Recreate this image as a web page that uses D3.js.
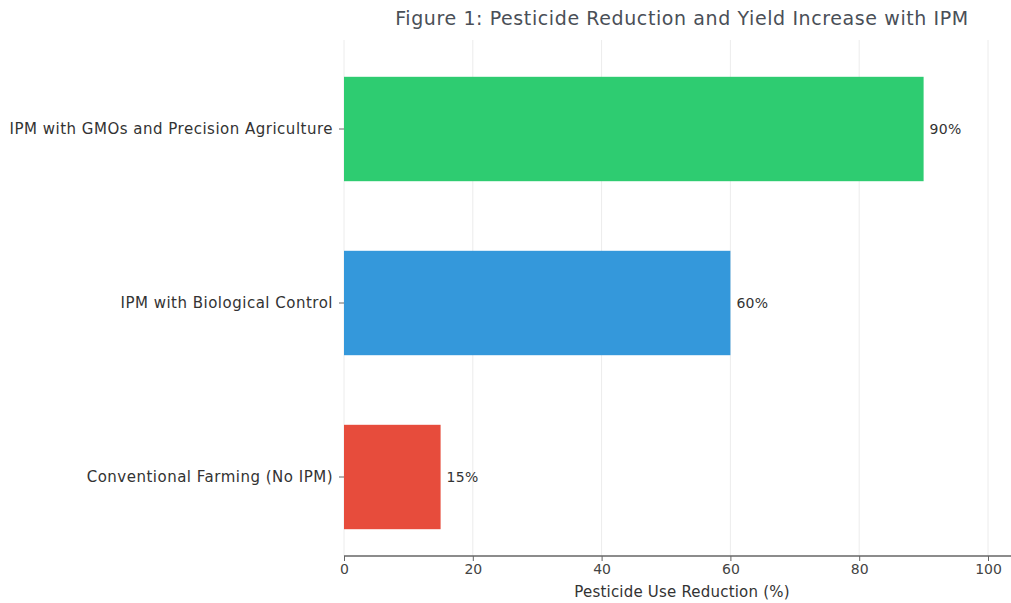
<!DOCTYPE html>
<html><head><meta charset="utf-8">
<script src="https://cdn.jsdelivr.net/npm/d3@7"></script>
<style>
html,body{margin:0;padding:0;background:#fff;}
svg{display:block;font-family:"DejaVu Sans",sans-serif;}
</style></head>
<body>
<svg id="chart" width="1011" height="603"></svg>
<script>
const categories = ["IPM with GMOs and Precision Agriculture","IPM with Biological Control","Conventional Farming (No IPM)"];
const values = [90, 60, 15];
const colors = ["#2ecc71","#3498db","#e74c3c"];
const xTicks = [0,20,40,60,80,100];
const title = "Figure 1: Pesticide Reduction and Yield Increase with IPM";
const xLabel = "Pesticide Use Reduction (%)";

const FONT = "DejaVu Sans, sans-serif";
const svg = d3.select("#chart");
const left = 344, axisY = 556;
const x = d3.scaleLinear().domain([0,100]).range([left, 988]);
const y = d3.scaleBand().domain(categories).range([42,564]).paddingInner(0.4).paddingOuter(0.2);

// gridlines
svg.append("g").selectAll("line").data(xTicks).join("line")
  .attr("x1", d=>x(d)).attr("x2", d=>x(d)).attr("y1", 40).attr("y2", axisY)
  .attr("stroke", "#ececec").attr("stroke-width", 1);

// bars
svg.append("g").selectAll("rect").data(categories).join("rect")
  .attr("x", x(0)).attr("y", d=>y(d))
  .attr("width", (d,i)=>x(values[i])-x(0)).attr("height", y.bandwidth())
  .attr("fill", (d,i)=>colors[i]);

// value labels
svg.append("g").selectAll("text").data(categories).join("text")
  .attr("x", (d,i)=>x(values[i])+6).attr("y", d=>y(d)+y.bandwidth()/2)
  .attr("dy","0.35em").attr("font-size", 14).attr("fill", "#333").attr("letter-spacing", 0.3)
  .text((d,i)=>values[i]+"%");

// x axis
const xa = svg.append("g").attr("transform", `translate(0,${axisY})`)
  .call(d3.axisBottom(x).tickValues(xTicks).tickSize(5).tickPadding(3));
xa.select(".domain").remove();
xa.selectAll(".tick line").attr("stroke","#666");
xa.selectAll("text").attr("font-size", 14).attr("fill","#444").attr("font-family",FONT);
svg.append("line").attr("x1", left).attr("x2", 1011).attr("y1", axisY).attr("y2", axisY)
  .attr("stroke","#666").attr("stroke-width",1.5);

// y axis
const ya = svg.append("g").attr("transform", `translate(${left},0)`)
  .call(d3.axisLeft(y).tickSize(5).tickPadding(6));
ya.select(".domain").remove();
ya.selectAll(".tick line").attr("stroke","#666");
ya.selectAll("text").attr("font-size", 15).attr("fill","#333").attr("font-family",FONT).attr("letter-spacing",0.5);

// axis title
svg.append("text").attr("x", 682).attr("y", 597).attr("text-anchor","middle")
  .attr("font-size", 15).attr("fill","#333").attr("letter-spacing",0.2).text(xLabel);

// title
svg.append("text").attr("x", 682).attr("y", 25).attr("text-anchor","middle")
  .attr("font-size", 19).attr("fill","#4a4f57").attr("letter-spacing",0.6).text(title);
</script>
</body></html>
